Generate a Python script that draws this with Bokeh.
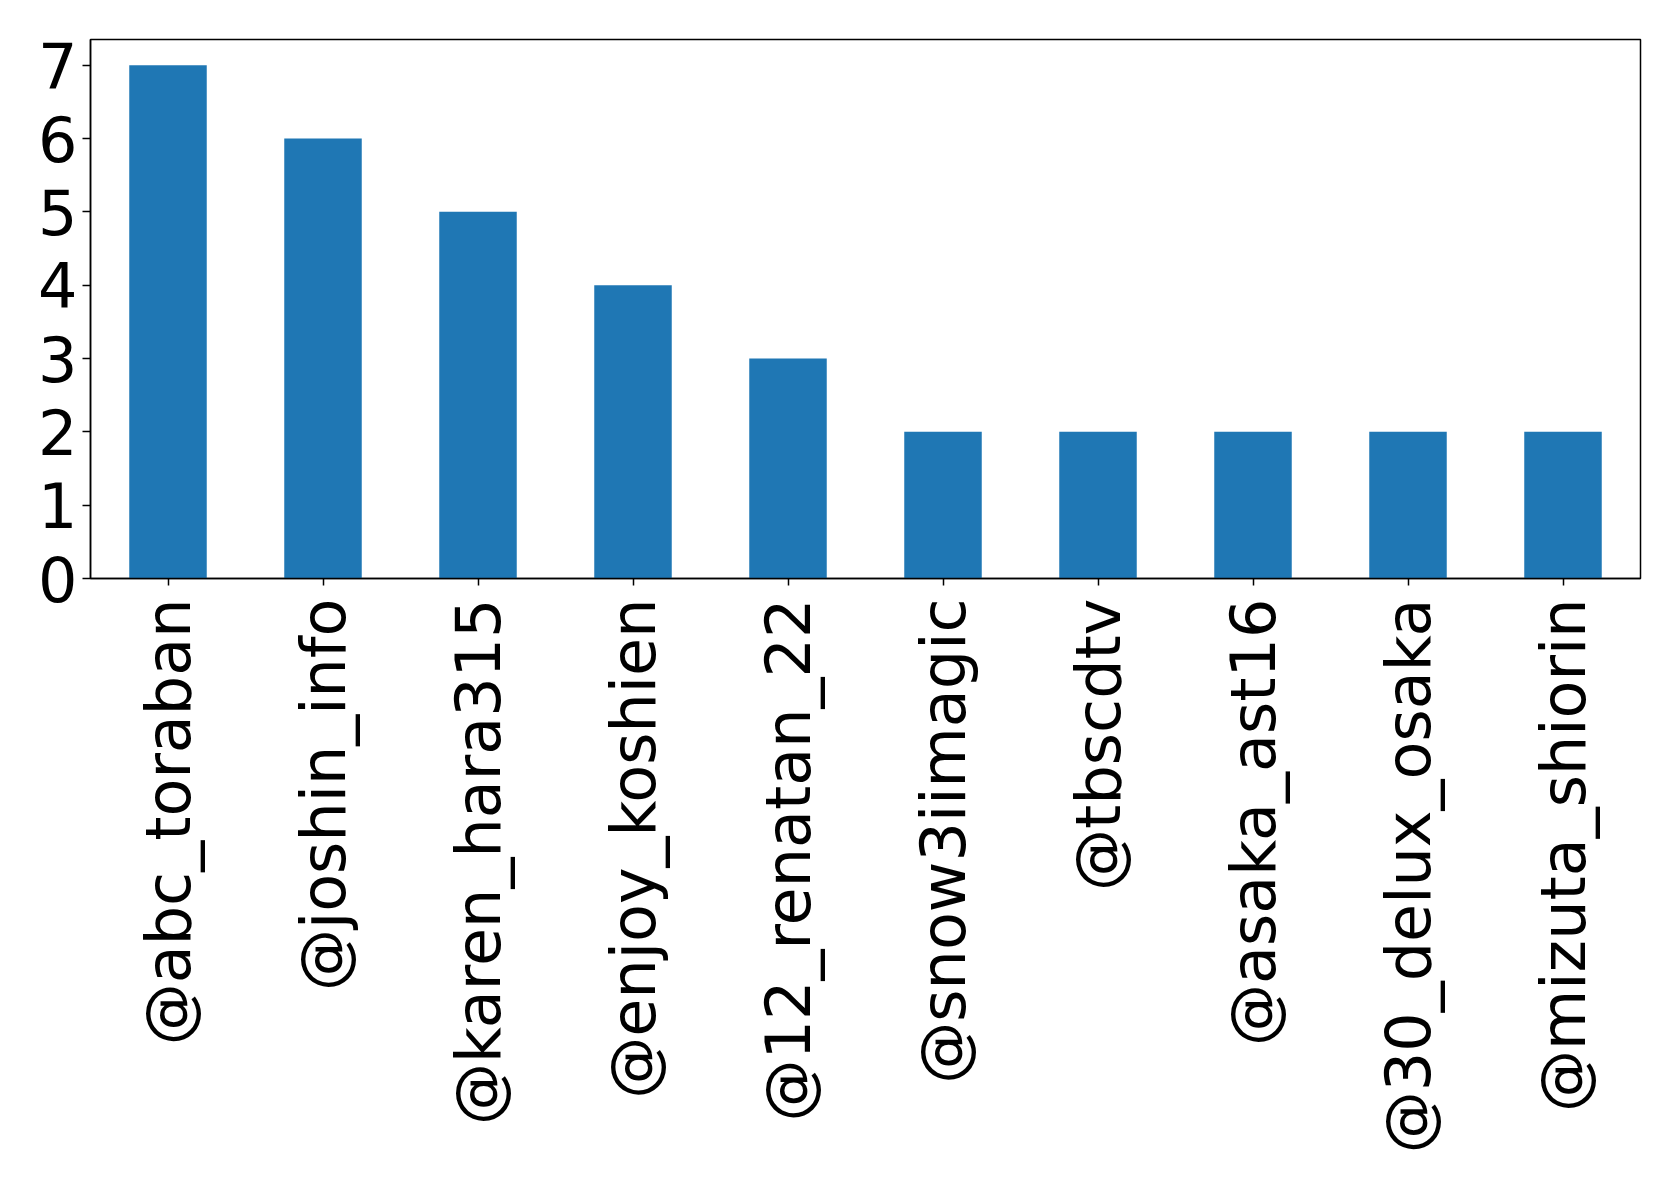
import math
from bokeh.plotting import figure
from bokeh.models import FactorRange, Range1d, FixedTicker, ColumnDataSource
from bokeh.embed import file_html
from bokeh.resources import INLINE

accounts = ["@abc_toraban", "@joshin_info", "@karen_hara315", "@enjoy_koshien",
            "@12_renatan_22", "@snow3iimagic", "@tbscdtv", "@asaka_ast16",
            "@30_delux_osaka", "@mizuta_shiorin"]
counts = [7, 6, 5, 4, 3, 2, 2, 2, 2, 2]
y_ticks = [0, 1, 2, 3, 4, 5, 6, 7]

src = ColumnDataSource(dict(x=accounts, y=counts))

p = figure(x_range=FactorRange(factors=accounts, range_padding=0),
           y_range=Range1d(0, 7.35),
           frame_width=1550, frame_height=539,
           min_border_left=90, min_border_top=39, min_border_right=20,
           min_border_bottom=560,
           output_backend="svg", toolbar_location=None)

p.vbar(x="x", top="y", width=0.5, source=src, color="#1f77b4", line_color=None)

p.xgrid.visible = False
p.ygrid.visible = False
p.outline_line_color = "black"
p.outline_line_width = 1.5
p.background_fill_color = "white"
p.border_fill_color = "white"

p.yaxis.ticker = FixedTicker(ticks=y_ticks)
for ax in (p.xaxis, p.yaxis):
    ax.axis_line_color = "black"
    ax.axis_line_width = 1.5
    ax.major_tick_line_color = "black"
    ax.major_tick_line_width = 1.5
    ax.major_tick_in = 0
    ax.minor_tick_line_color = None
    ax.major_label_text_font = "DejaVu Sans"
    ax.major_label_text_color = "black"

p.yaxis.major_tick_out = 8
p.yaxis.major_label_standoff = 5
p.yaxis.major_label_text_font_size = "62px"

p.xaxis.major_tick_out = 7
p.xaxis.major_label_standoff = 13
p.xaxis.major_label_text_font_size = "62px"
p.xaxis.major_label_orientation = math.pi / 2

open("out.html", "w").write(file_html(p, INLINE))
